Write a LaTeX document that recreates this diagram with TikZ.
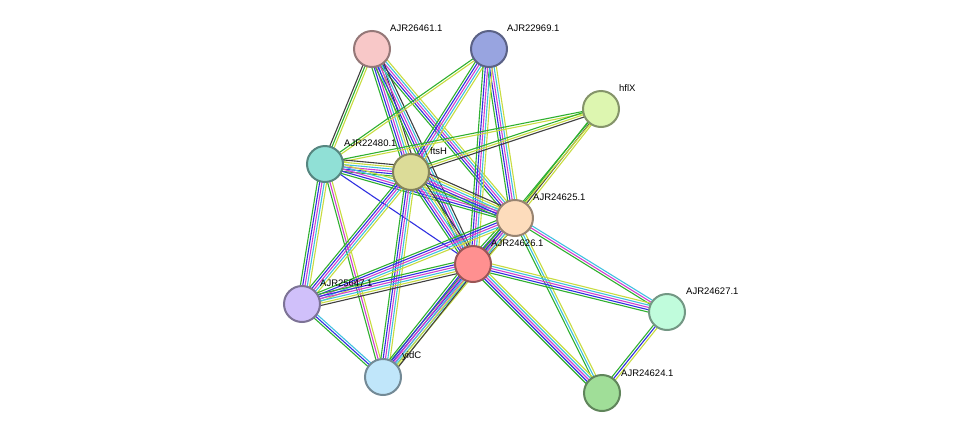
\documentclass[tikz,border=0pt]{standalone}
\usepackage{fontspec}
\setmainfont{Liberation Sans}
\usetikzlibrary{calc}
\pgfdeclarelayer{bg}
\pgfsetlayers{bg,main}
\definecolor{sgreen}{HTML}{30B030}
\definecolor{sblue}{HTML}{3030E0}
\definecolor{smag}{HTML}{D040D0}
\definecolor{scyan}{HTML}{40C0E0}
\definecolor{syel}{HTML}{C8DC40}
\definecolor{sblack}{HTML}{404040}
\tikzset{
  prot/.style={circle,draw=#1!60!black,fill=#1,line width=2pt,minimum size=36pt,inner sep=0pt},
  lbl/.style={font=\fontsize{9.5pt}{11pt}\selectfont,anchor=west,inner sep=0pt}
}
\newcommand\linkage[4]{%
  \foreach \c [count=\i] in {#4}{%
    \pgfmathsetmacro\off{(\i-(#3+1)/2)*2.3}
    \draw[\c,line width=1.1pt] ($(#1)!\off pt!90:(#2)$) -- ($(#2)!\off pt!-90:(#1)$);
  }}
\begin{document}
\begin{tikzpicture}[x=1pt,y=-1pt]
 \useasboundingbox (0,0) rectangle (975,440);
 \definecolor{cA}{HTML}{F8C8C8}\definecolor{cB}{HTML}{98A4E0}
 \definecolor{cC}{HTML}{DDF6B0}\definecolor{cD}{HTML}{90E0D6}
 \definecolor{cE}{HTML}{DCDC98}\definecolor{cF}{HTML}{FDDCBC}
 \definecolor{cG}{HTML}{FF9090}\definecolor{cH}{HTML}{D0C0FA}
 \definecolor{cI}{HTML}{C0FCDC}\definecolor{cJ}{HTML}{C0E6FA}
 \definecolor{cK}{HTML}{A0DE98}
 % proteins
 \node[prot=cA] (p26461) at (372,49) {};
 \node[prot=cB] (p22969) at (489,49) {};
 \node[prot=cC] (hflX) at (601,109) {};
 \node[prot=cD] (p22480) at (325,164) {};
 \node[prot=cE] (ftsH) at (411,172) {};
 \node[prot=cF] (p24625) at (515,218) {};
 \node[prot=cG] (p24626) at (473,264) {};
 \node[prot=cH] (p25647) at (302,304) {};
 \node[prot=cI] (p24627) at (667,312) {};
 \node[prot=cJ] (yidC) at (383,377) {};
 \node[prot=cK] (p24624) at (602,393) {};
 % labels
 \node[lbl] at (390,28) {AJR26461.1};
 \node[lbl] at (507,28) {AJR22969.1};
 \node[lbl] at (619,88) {hflX};
 \node[lbl] at (344,143) {AJR22480.1};
 \node[lbl] at (430,151) {ftsH};
 \node[lbl] at (533,197) {AJR24625.1};
 \node[lbl] at (491,243) {AJR24626.1};
 \node[lbl] at (320,283) {AJR25647.1};
 \node[lbl] at (686,291) {AJR24627.1};
 \node[lbl] at (402,356) {yidC};
 \node[lbl] at (621,373) {AJR24624.1};
 % links
 \begin{pgfonlayer}{bg}
 \linkage{p26461}{p22480}{3}{sblack,sgreen,syel}
 \linkage{p26461}{ftsH}{6}{sgreen,sblue,smag,scyan,syel,sblack}
 \linkage{p26461}{p24625}{5}{sgreen,sblue,smag,scyan,syel}
 \linkage{p26461}{p24626}{5}{sgreen,sblue,smag,scyan,sblack}
 \linkage{p22969}{p22480}{2}{sgreen,syel}
 \linkage{p22969}{ftsH}{5}{sgreen,sblue,smag,scyan,syel}
 \linkage{p22969}{p24625}{5}{sgreen,sblue,smag,scyan,syel}
 \linkage{p22969}{p24626}{5}{sgreen,sblue,smag,scyan,syel}
 \linkage{hflX}{p22480}{2}{sgreen,syel}
 \linkage{hflX}{ftsH}{3}{sgreen,syel,sblack}
 \linkage{hflX}{p24625}{3}{sgreen,sblack,syel}
 \linkage{hflX}{p24626}{2}{sgreen,syel}
 \linkage{p22480}{ftsH}{6}{sgreen,sblue,smag,scyan,syel,sblack}
 \linkage{p22480}{p24625}{5}{sgreen,sblue,smag,scyan,syel}
 \linkage{p22480}{p24626}{1}{sblue}
 \linkage{p22480}{p25647}{5}{sgreen,sblue,smag,scyan,syel}
 \linkage{p22480}{yidC}{3}{sgreen,smag,syel}
 \linkage{ftsH}{p24625}{6}{sgreen,sblue,smag,scyan,syel,sblack}
 \linkage{ftsH}{p24626}{6}{sgreen,sblue,smag,scyan,syel,sblack}
 \linkage{ftsH}{p25647}{5}{sgreen,sblue,smag,scyan,syel}
 \linkage{ftsH}{yidC}{5}{sgreen,sblue,smag,scyan,syel}
 \linkage{p24625}{p24626}{6}{sgreen,sblue,smag,scyan,syel,sblack}
 \linkage{p24625}{p25647}{5}{sgreen,sblue,smag,scyan,syel}
 \linkage{p24625}{yidC}{5}{sgreen,sblue,smag,scyan,syel}
 \linkage{p24625}{p24627}{3}{sgreen,smag,scyan}
 \linkage{p24625}{p24624}{3}{sgreen,scyan,syel}
 \linkage{p24626}{p25647}{6}{sgreen,sblue,smag,scyan,syel,sblack}
 \linkage{p24626}{yidC}{6}{sgreen,sblue,smag,scyan,syel,sblack}
 \linkage{p24626}{p24627}{5}{sgreen,sblue,smag,scyan,syel}
 \linkage{p24626}{p24624}{5}{sgreen,sblue,smag,scyan,syel}
 \linkage{p25647}{yidC}{3}{sgreen,sblue,scyan}
 \linkage{p24627}{p24624}{3}{sgreen,sblue,syel}
 \end{pgfonlayer}
\end{tikzpicture}
\end{document}
